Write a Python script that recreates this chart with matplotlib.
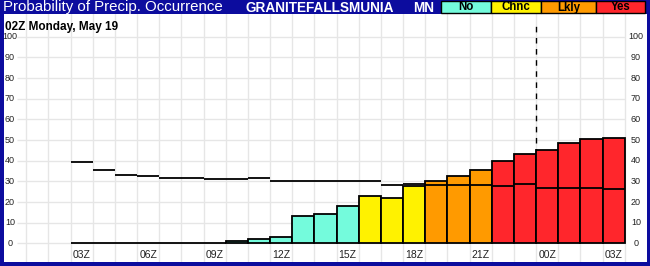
import matplotlib
matplotlib.use('Agg')
import matplotlib.pyplot as plt
from matplotlib.patches import Rectangle

plt.rcParams['font.family'] = ['Liberation Sans', 'DejaVu Sans']

# hourly data, 03Z Monday to 03Z Tuesday
hours = ['03Z', '04Z', '05Z', '06Z', '07Z', '08Z', '09Z', '10Z', '11Z', '12Z',
         '13Z', '14Z', '15Z', '16Z', '17Z', '18Z', '19Z', '20Z', '21Z', '22Z',
         '23Z', '00Z', '01Z', '02Z', '03Z']
pop = [0, 0, 0, 0, 0, 0, 0, 1, 2, 3.3,
       13.4, 14.4, 18.3, 22.7, 21.7, 27.8, 30.4, 32.4, 35.3, 39.7,
       43.1, 45.0, 48.4, 50.3, 50.8]
cats = ['No'] * 13 + ['Chnc'] * 3 + ['Lkly'] * 3 + ['Yes'] * 6
clim = [39.2, 35.3, 33.3, 32.4, 31.4, 31.7, 30.9, 30.9, 31.4, 30.4,
        30.4, 30.4, 30.0, 30.0, 28.3, 28.5, 28.0, 28.0, 28.0, 27.8,
        28.5, 26.8, 26.8, 27.0, 26.4]
yticks = [0, 10, 20, 30, 40, 50, 60, 70, 80, 90, 100]

legend_names = ['No', 'Chnc', 'Lkly', 'Yes']
colors = {'No': '#74fbdc', 'Chnc': '#fff200', 'Lkly': '#ff9a00', 'Yes': '#ff262c'}
navy = '#0c0c9e'

W, H = 650, 266
fig = plt.figure(figsize=(6.5, 2.66), dpi=100, facecolor=navy)

def fx(px):
    return px / W

def fy(py):
    return 1 - py / H

ax = fig.add_axes([fx(4), fy(261.5), fx(643), (261.5 - 14) / H])
ax.set_facecolor('white')
for s in ax.spines.values():
    s.set_visible(False)
ax.set_xticks([])
ax.set_yticks([])
ax.set_xlim(-3, 26)
ax.set_ylim(-8.8, 111)

n = len(pop)
# grid
for x in range(-2, n + 1):
    ax.axvline(x, color='#e6e6e6', lw=1, zorder=0)
for y in yticks:
    ax.hlines(y, -2.42, n, color='#e6e6e6', lw=1, zorder=0)

# midnight marker
ax.vlines(21, 0, 107.5, colors='black', lw=1, linestyles=(0, (4, 4)), zorder=1)

ax.bar(range(n), pop, width=1, align='edge',
       color=[colors[c] for c in cats], edgecolor='black', linewidth=1.3, zorder=2)
ax.hlines(clim, range(n), [i + 1 for i in range(n)], colors='black', lw=1.3, zorder=3)

for y in yticks:
    ax.text(-2.73, y, str(y), ha='center', va='center', fontsize=6.5, color='#222222')
    ax.text(25.5, y, str(y), ha='center', va='center', fontsize=6.5, color='#222222')
for i in range(0, n, 3):
    ax.text(i + 0.5, -5.6, hours[i], ha='center', va='center', fontsize=7.5, color='#222222')

ax.text(-2.95, 104.5, '02Z Monday, May 19', ha='left', va='center', fontsize=8.5,
        fontweight='bold')

# header bar
fig.text(fx(3), fy(7.5), 'Probability of Precip. Occurrence', color='white',
         fontsize=10.8, ha='left', va='center')
fig.text(fx(246), fy(7.5), 'GRANITEFALLSMUNIA', color='white', fontsize=9.8,
         fontweight='bold', ha='left', va='center')
fig.text(fx(413), fy(7.5), 'MN', color='white', fontsize=9.8,
         fontweight='bold', ha='left', va='center')

edges = [441, 491, 541, 596, 645]
for k, name in enumerate(legend_names):
    x0, x1 = edges[k], edges[k + 1]
    fig.patches.append(Rectangle((fx(x0), fy(13)), fx(x1 - x0), 12 / H,
                                 transform=fig.transFigure, facecolor=colors[name],
                                 edgecolor='black', linewidth=1))
    fig.text(fx((x0 + x1) / 2), fy(7.5), name, fontsize=8.3, fontweight='bold',
             ha='center', va='center', color='black')

fig.savefig('out.png', dpi=100, facecolor=navy)
